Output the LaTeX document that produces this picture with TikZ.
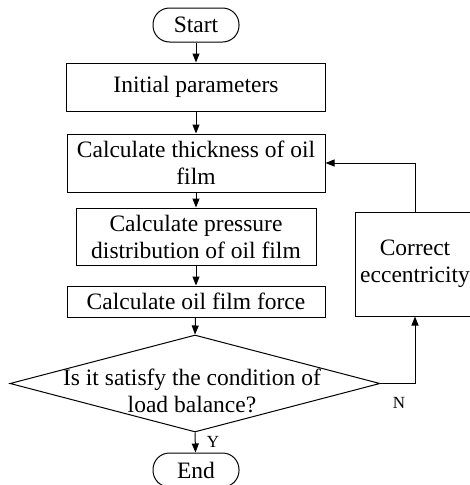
\documentclass[tikz,border=0pt]{standalone}
\usepackage{fontspec}
\setmainfont{Liberation Serif}
\usetikzlibrary{arrows.meta,shapes.geometric}
\begin{document}
\begin{tikzpicture}[x=1pt,y=-1pt,
  every node/.style={font=\fontsize{23.5}{27}\selectfont},
  base/.style={draw,line width=1pt,inner sep=0pt,align=center},
  proc/.style={base,rectangle},
  term/.style={base,rectangle,rounded corners=16.5pt,minimum width=86pt,minimum height=34pt},
  arr/.style={draw,line width=1pt,-{Triangle[length=9pt,width=7pt]}},
  ln/.style={draw,line width=1pt}]
\useasboundingbox (0,0) rectangle (469,485);
\node[term] (start) at (196,25) {Start};
\node[proc,minimum width=259pt,minimum height=48pt] (init) at (196,87) {Initial parameters};
\node[proc,minimum width=258pt,minimum height=58pt] (thick) at (196,163) {Calculate thickness of oil\\film};
\node[proc,minimum width=240pt,minimum height=57pt] (press) at (196,236.5) {Calculate pressure\\distribution of oil film};
\node[proc,minimum width=258pt,minimum height=31pt] (force) at (196,301.5) {Calculate oil film force};
\node[base,diamond,minimum width=370pt,minimum height=97pt] (dec) at (195,383.5) {};
\node[align=center,inner sep=0pt] (dectxt) at (192,391) {Is it satisfy the condition of\\load balance?};
\node[term] (end) at (196,470) {End};
\node[proc,minimum width=120pt,minimum height=104pt] (corr) at (415,264) {Correct\\eccentricity};
\node[inner sep=0pt,font=\fontsize{17}{20}\selectfont] (nlab) at (399,403) {N};
\node[inner sep=0pt,font=\fontsize{17}{20}\selectfont] (ylab) at (213,442) {Y};
\coordinate (nc) at (415,383.5);
\coordinate (lc) at (415,163);
\path[arr] (start) -- (init);
\path[arr] (init) -- (thick);
\path[arr] (thick) -- (press);
\path[arr] (press) -- (force);
\path[arr] (force) -- (dec.north);
\path[arr] (dec.south) -- (end);
\path[ln] (dec.east) -- (nc);
\path[arr] (nc) -- (corr.south);
\path[ln] (corr.north) -- (lc);
\path[arr] (lc) -- (thick.east);
\end{tikzpicture}
\end{document}
